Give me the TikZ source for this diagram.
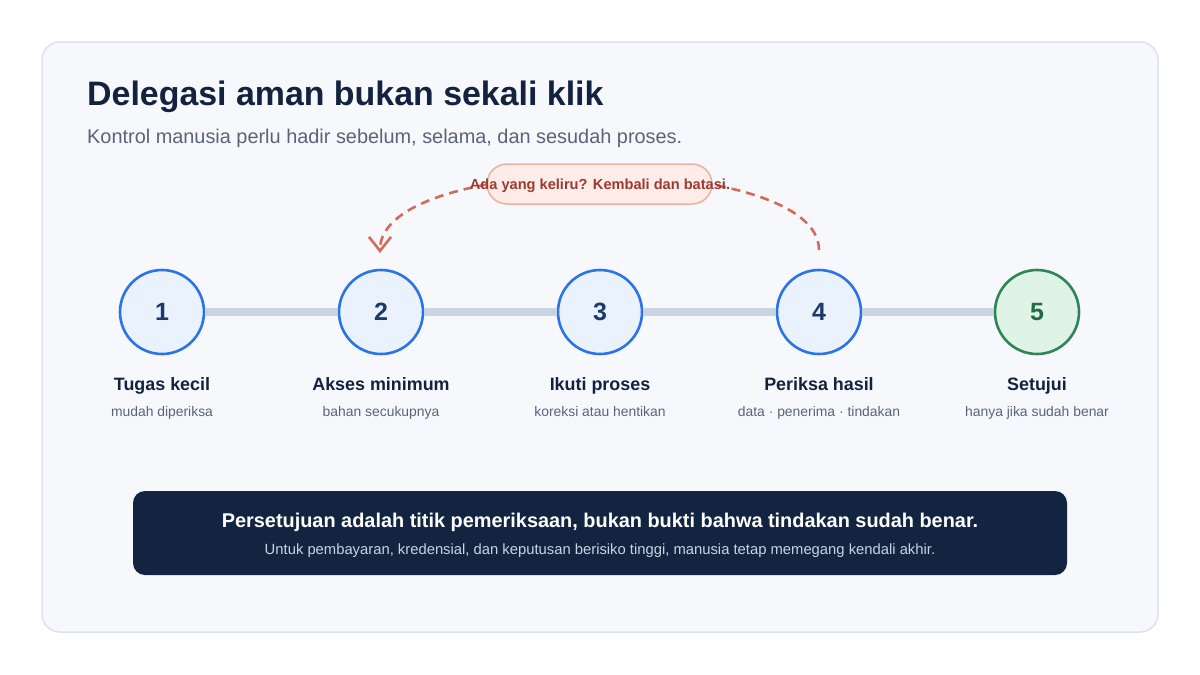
\documentclass[tikz,border=0pt]{standalone}
\usepackage{fontspec}
\setmainfont{Liberation Sans}
\usetikzlibrary{arrows.meta}
\definecolor{bgpanel}{HTML}{F7F8FC}
\definecolor{panelline}{HTML}{DDE3EE}
\definecolor{navy}{HTML}{13223F}
\definecolor{greytext}{HTML}{5A6478}
\definecolor{bluestroke}{HTML}{2A73E8}
\definecolor{bluefill}{HTML}{EAF2FE}
\definecolor{numblue}{HTML}{1B3A6B}
\definecolor{greenstroke}{HTML}{2E8558}
\definecolor{greenfill}{HTML}{DFF3E6}
\definecolor{numgreen}{HTML}{226B45}
\definecolor{trackgrey}{HTML}{C8D4E2}
\definecolor{redline}{HTML}{D46A5A}
\definecolor{pillfill}{HTML}{FDECE8}
\definecolor{pillline}{HTML}{F0B0A6}
\definecolor{redtext}{HTML}{9B3A2E}
\definecolor{darkbox}{HTML}{12243F}
\definecolor{lighttext}{HTML}{C9D3E3}
\tikzset{
  stepcircle/.style={circle, minimum size=84pt, inner sep=0pt, line width=2.6pt, draw=bluestroke, fill=bluefill, text=numblue, font=\bfseries\fontsize{25}{28}\selectfont},
  greencircle/.style={stepcircle, draw=greenstroke, fill=greenfill, text=numgreen},
  steptitle/.style={anchor=base, text=navy, font=\bfseries\fontsize{17.9}{20}\selectfont, inner sep=0pt},
  stepsub/.style={anchor=base, text=greytext, font=\fontsize{13.9}{16}\selectfont, inner sep=0pt},
  track/.style={line width=8pt, draw=trackgrey},
  backarc/.style={draw=redline, line width=2.6pt, dash pattern=on 9pt off 6pt, -{Straight Barb[length=14pt,width=22pt,line width=2.6pt]}},
}
\begin{document}
\begin{tikzpicture}[x=1pt,y=-1pt]
\useasboundingbox (0,0) rectangle (1200,675);
\fill[white] (0,0) rectangle (1200,675);
\draw[fill=bgpanel, draw=panelline, line width=1.5pt, rounded corners=18pt] (42,42) rectangle (1158,632);

\node[anchor=base west, inner sep=0pt, text=navy, font=\bfseries\fontsize{33.9}{38}\selectfont] (title) at (87,105) {Delegasi aman bukan sekali klik};
\node[anchor=base west, inner sep=0pt, text=greytext, font=\fontsize{19.9}{22}\selectfont] (subtitle) at (87,143) {Kontrol manusia perlu hadir sebelum, selama, dan sesudah proses.};

% circles
\node[stepcircle] (c1) at (162,312) {1};
\node[stepcircle] (c2) at (381,312) {2};
\node[stepcircle] (c3) at (600,312) {3};
\node[stepcircle] (c4) at (819,312) {4};
\node[greencircle] (c5) at (1037,312) {5};

\draw[track] (c1) -- (c2);
\draw[track] (c2) -- (c3);
\draw[track] (c3) -- (c4);
\draw[track] (c4) -- (c5);

% labels
\node[steptitle] (t1) at (162,390) {Tugas kecil};
\node[stepsub] (s1) at (162,416) {mudah diperiksa};
\node[steptitle] (t2) at (381,390) {Akses minimum};
\node[stepsub] (s2) at (381,416) {bahan secukupnya};
\node[steptitle] (t3) at (600,390) {Ikuti proses};
\node[stepsub] (s3) at (600,416) {koreksi atau hentikan};
\node[steptitle] (t4) at (819,390) {Periksa hasil};
\node[stepsub] (s4) at (819,416) {data · penerima · tindakan};
\node[steptitle] (t5) at (1037,390) {Setujui};
\node[stepsub] (s5) at (1037,416) {hanya jika sudah benar};

% back arc
\coordinate (arcstart) at (819,250);
\coordinate (arcend) at (380,253);
\draw[backarc] (arcstart) .. controls (819,150) and (380,150) .. (arcend);
\draw[fill=pillfill, draw=pillline, line width=1.5pt, rounded corners=20pt] (487,164) rectangle (712,204);
\node[anchor=base, inner sep=0pt, text=redtext, font=\bfseries\fontsize{14.6}{17}\selectfont] (pill) at (600,189) {Ada yang keliru? Kembali dan batasi.};

% bottom box
\node[draw=none, fill=darkbox, rounded corners=12pt, minimum width=934pt, minimum height=84pt, inner sep=0pt] (box) at (600,533) {};
\node[anchor=base, inner sep=0pt, text=white, font=\bfseries\fontsize{19.9}{22}\selectfont] (boxtitle) at (600,527) {Persetujuan adalah titik pemeriksaan, bukan bukti bahwa tindakan sudah benar.};
\node[anchor=base, inner sep=0pt, text=lighttext, font=\fontsize{14.8}{17}\selectfont] (boxsub) at (600,554) {Untuk pembayaran, kredensial, dan keputusan berisiko tinggi, manusia tetap memegang kendali akhir.};
\end{tikzpicture}
\end{document}
